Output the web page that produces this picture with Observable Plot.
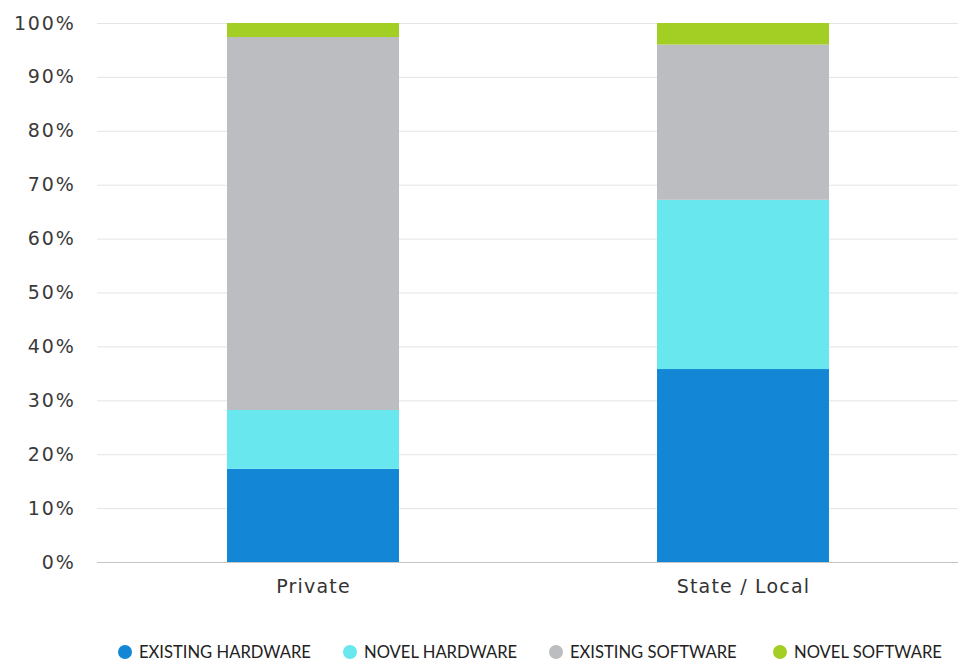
<!DOCTYPE html>
<html>
<head>
<meta charset="utf-8">
<script src="https://cdn.jsdelivr.net/npm/d3@7"></script>
<script src="https://cdn.jsdelivr.net/npm/@observablehq/plot@0.6"></script>
<style>
  body { margin: 0; background: #fff; font-family: Lato, "Open Sans", sans-serif; overflow: hidden; }
  #legend { position: relative; height: 36px; }
  .item { position: absolute; top: 19px; display: flex; align-items: center; font-size: 16.6px; color: #222; white-space: nowrap; line-height: 16px; height: 16px; }
  .sw { width: 14px; height: 14px; border-radius: 50%; margin-right: 7px; display: inline-block; }
</style>
</head>
<body>
<div id="chart"></div>
<div id="legend"></div>
<script>
const sectors = ["Private", "State / Local"];
const series = ["EXISTING HARDWARE", "NOVEL HARDWARE", "EXISTING SOFTWARE", "NOVEL SOFTWARE"];
const colors = ["#1386d6", "#68e8ee", "#bbbdc0", "#a3ce23"];
const privateValues = [17.3, 10.9, 69.2, 2.6];
const stateLocalValues = [35.8, 31.4, 28.8, 4.0];
const yTicks = [0, 10, 20, 30, 40, 50, 60, 70, 80, 90, 100];

const data = [];
series.forEach((s, i) => {
  data.push({sector: sectors[0], series: s, value: privateValues[i]});
  data.push({sector: sectors[1], series: s, value: stateLocalValues[i]});
});

const chart = Plot.plot({
  width: 962,
  height: 625,
  marginTop: 23,
  marginLeft: 97,
  marginRight: 4,
  marginBottom: 63,
  style: { fontFamily: "'DejaVu Sans', sans-serif", background: "#fff" },
  x: { domain: sectors, padding: 0.6, paddingOuter: 0.3, label: null },
  y: { domain: [0, 100], label: null },
  color: { domain: series, range: colors },
  marks: [
    Plot.gridY(yTicks.slice(1), { stroke: "#e4e4e4", strokeOpacity: 1 }),
    Plot.barY(data, Plot.stackY({ order: series, x: "sector", y: "value", fill: "series" })),
    Plot.ruleY([0], { stroke: "#c4c4c4", strokeWidth: 1.2 }),
    Plot.axisY(yTicks, { tickSize: 0, tickPadding: 22, tickFormat: d => d + "%", fontSize: 19, fill: "#3a3a3a" }),
    Plot.axisX({ tickSize: 0, tickPadding: 17, fontSize: 19, fill: "#333", stroke: "#333", strokeWidth: 0.4 })
  ]
});
chart.querySelectorAll("g[aria-label='y-axis tick label'] text, g[aria-label='x-axis tick label'] text").forEach(t => {
  t.style.letterSpacing = t.parentNode.getAttribute("aria-label").startsWith("y") ? "1.8px" : "1.2px";
});
document.getElementById("chart").appendChild(chart);

const legend = document.getElementById("legend");
const lefts = [118, 343, 549, 773];
series.forEach((s, i) => {
  const it = document.createElement("div");
  it.className = "item";
  it.style.left = lefts[i] + "px";
  it.innerHTML = `<span class="sw" style="background:${colors[i]}"></span>${s}`;
  legend.appendChild(it);
});
</script>
</body>
</html>
